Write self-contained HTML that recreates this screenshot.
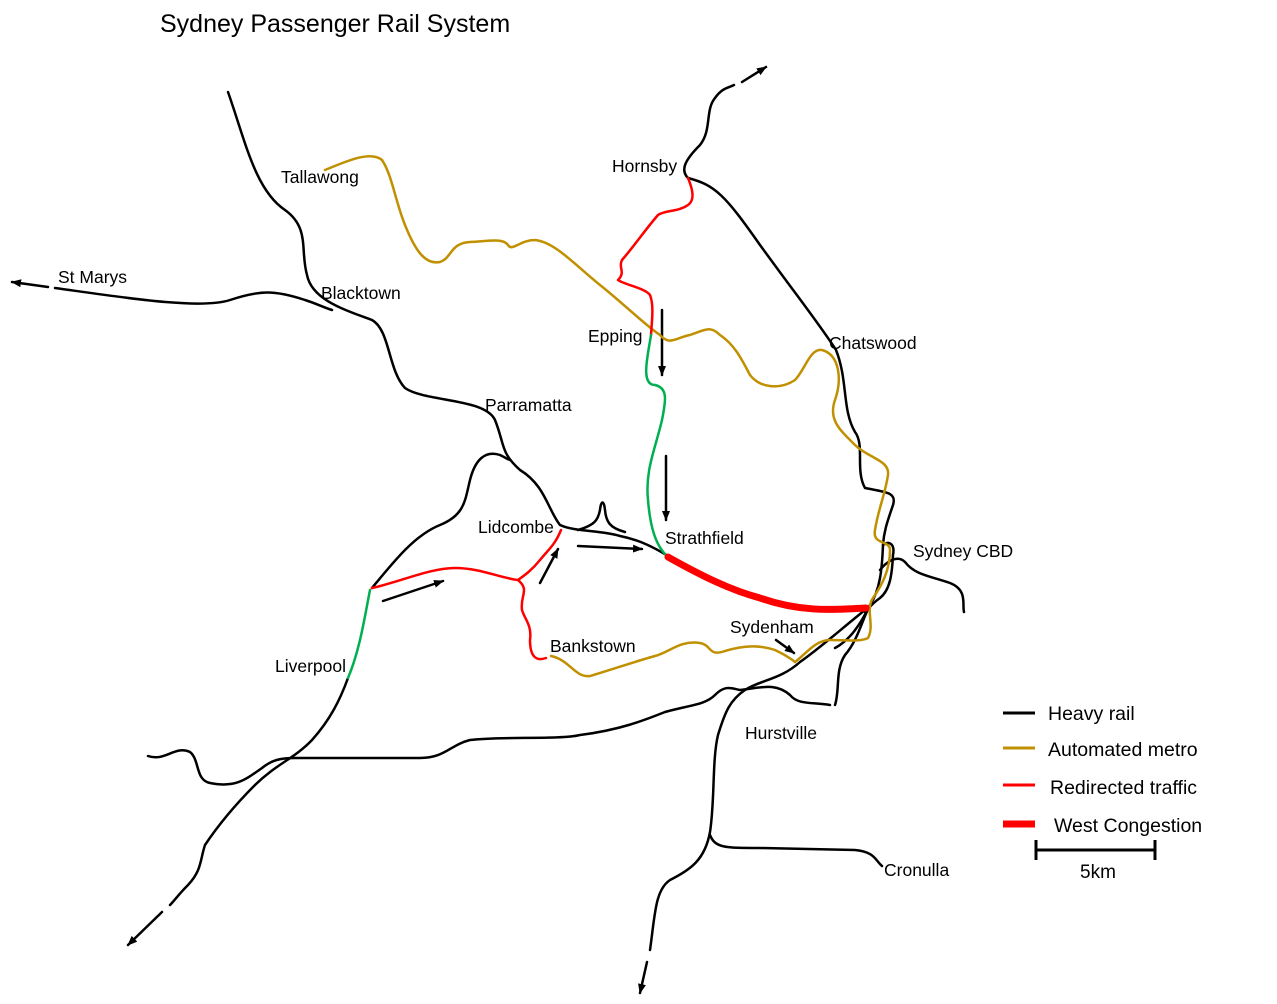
<!DOCTYPE html>
<html><head><meta charset="utf-8"><style>
body{margin:0;background:#fff;width:1277px;height:1004px;overflow:hidden}
svg{display:block}
text{font-family:"Liberation Sans",sans-serif;font-size:17.5px;fill:#000}
</style></head><body>
<svg width="1277" height="1004" viewBox="0 0 1277 1004" xmlns="http://www.w3.org/2000/svg">
<defs><marker id="a" markerWidth="10" markerHeight="8" refX="9" refY="4" orient="auto" markerUnits="userSpaceOnUse"><path d="M0,0 L10,4 L0,8 z" fill="#000"/></marker></defs>
<text x="160" y="32" style="font-size:25px">Sydney Passenger Rail System</text>
<g fill="none" stroke="#000" stroke-width="2.5" stroke-linecap="round" stroke-linejoin="round">
<path d="M228,92 C245,140 255,190 285,210 C310,228 300,250 307,275 C312,300 345,310 372,320 C390,330 388,370 405,388 C425,402 485,398 495,420 C505,445 500,452 520,470 C545,485 548,510 560,525 C575,532 600,530 620,536 C640,540 655,548 668,556"/>
<path d="M55,288 C120,297 200,310 230,300 C260,290 275,290 305,300 C315,303 325,308 332,310"/>
<path d="M48,287 L12,282" marker-end="url(#a)"/>
<path d="M688,178 C680,170 685,160 700,145 C712,130 705,110 715,98 C722,88 728,88 734,85"/>
<path d="M742,82 L766,67" marker-end="url(#a)"/>
<path d="M688,178 C715,185 725,195 760,245 C800,300 820,325 836,350 C848,380 842,410 855,432 C865,445 855,470 865,488 C885,492 897,492 893,505 C888,520 884,530 883,545 C882,570 880,590 870,605 C860,625 850,640 835,648"/>
<path d="M883,545 C890,540 895,545 893,555 C892,575 890,590 880,598 C870,605 868,610 865,612"/>
<path d="M880,570 C888,560 898,555 905,562 C915,575 930,576 950,583 C968,590 962,605 964,612"/>
<path d="M148,756 C165,762 175,745 190,752 C200,760 195,780 210,783 C235,788 245,780 262,768 C272,760 280,758 295,758 L420,758 C445,758 450,745 470,740 C500,736 560,740 580,735 C620,730 645,720 665,712 C690,705 705,705 715,695 C725,685 730,688 740,690 C760,688 775,682 790,695 C798,705 812,702 830,705"/>
<path d="M865,610 C840,630 820,648 800,662 C780,680 760,680 745,690 C730,700 725,712 718,735 C712,760 715,800 710,832 C705,860 690,870 670,880 C655,890 655,915 650,950"/>
<path d="M647,962 L640,993" marker-end="url(#a)"/>
<path d="M710,835 C715,848 725,848 760,848 L855,850 C875,852 875,860 882,866"/>
<path d="M870,605 C862,620 858,640 845,655 C835,670 840,690 835,705"/>
<path d="M348,678 C340,700 330,720 312,740 C295,758 275,765 255,785 C230,810 215,830 205,845 C200,860 202,870 188,885 C178,895 175,900 170,905"/>
<path d="M162,912 L128,945" marker-end="url(#a)"/>
<path d="M372,588 C395,560 415,535 440,525 C465,515 465,500 470,480 C475,460 485,450 500,455 C510,460 505,458 510,460"/>
<path d="M578,530 C595,525 598,520 600,510 C601,500 604,500 605,510 C606,522 610,528 625,532"/>
<path d="M662,310 L662,375" marker-end="url(#a)"/>
<path d="M666,456 L666,520" marker-end="url(#a)"/>
<path d="M578,546 L642,549" marker-end="url(#a)"/>
<path d="M383,601 L443,581" marker-end="url(#a)"/>
<path d="M540,583 L558,549" marker-end="url(#a)"/>
<path d="M776,640 L794,653" marker-end="url(#a)"/>
</g>
<g fill="none" stroke="#c09000" stroke-width="2.5" stroke-linecap="round" stroke-linejoin="round">
<path d="M325,170 C345,162 370,150 382,160 C392,175 395,200 405,225 C415,250 425,265 440,262 C452,258 450,243 470,242 C490,241 503,238 508,245 C512,252 520,240 535,240 C555,242 575,265 600,285 C625,305 645,325 660,335 C670,346 675,338 690,335 C705,330 710,325 720,335 C735,345 742,360 750,375 C760,388 780,390 795,380 C805,370 810,348 822,350 C840,355 842,380 835,400 C828,420 840,430 855,445 C868,458 890,460 888,475 C885,495 878,510 875,530 C872,545 890,540 890,550 C890,570 882,585 873,598 C865,610 875,625 868,638 C860,642 845,640 830,640 C815,640 805,655 795,662"/>
<path d="M551,656 C570,660 575,678 590,676 C610,670 640,660 655,656 C670,652 680,640 700,643 C712,645 708,657 725,651 C745,645 760,645 775,650 C788,656 795,662 795,662"/>
</g>
<g fill="none" stroke="#ff0000" stroke-width="2.5" stroke-linecap="round" stroke-linejoin="round">
<path d="M688,178 C693,190 695,200 688,205 C678,212 665,210 658,215 C645,230 635,245 622,260 C618,268 626,272 618,280 C625,285 645,288 650,295 C654,305 652,320 651,335"/>
<path d="M561,530 C555,545 548,550 540,560 C532,570 525,575 518,580 C530,590 520,595 522,610 C525,620 532,625 530,640 C530,655 535,662 546,658"/>
<path d="M518,580 C500,578 480,568 455,568 C430,568 400,582 372,588"/>
</g>
<g fill="none" stroke="#00b050" stroke-width="2.5" stroke-linecap="round">
<path d="M651,335 C648,355 640,385 655,385 C668,388 666,400 662,420 C655,450 645,470 648,500 C650,525 655,545 667,556"/>
<path d="M370,590 C365,615 360,650 348,678"/>
</g>
<path d="M668,557 C700,575 730,590 760,598 C800,612 830,610 866,608" fill="none" stroke="#ff0000" stroke-width="7" stroke-linecap="round"/>
<text x="281" y="183">Tallawong</text>
<text x="612" y="172">Hornsby</text>
<text x="58" y="283">St Marys</text>
<text x="321" y="299">Blacktown</text>
<text x="588" y="342">Epping</text>
<text x="829" y="349">Chatswood</text>
<text x="485" y="411">Parramatta</text>
<text x="478" y="533">Lidcombe</text>
<text x="665" y="544">Strathfield</text>
<text x="913" y="557">Sydney CBD</text>
<text x="730" y="633">Sydenham</text>
<text x="550" y="652">Bankstown</text>
<text x="275" y="672">Liverpool</text>
<text x="745" y="739">Hurstville</text>
<text x="884" y="876">Cronulla</text>
<g stroke-width="3"><line x1="1003" y1="713" x2="1035" y2="713" stroke="#000"/><line x1="1003" y1="748" x2="1035" y2="748" stroke="#c09000"/><line x1="1003" y1="785" x2="1035" y2="785" stroke="#ff0000"/><line x1="1003" y1="824" x2="1035" y2="824" stroke="#ff0000" stroke-width="7"/></g>
<text x="1048" y="720" style="font-size:19.5px">Heavy rail</text>
<text x="1048" y="756" style="font-size:19.5px">Automated metro</text>
<text x="1050" y="794" style="font-size:19.5px">Redirected traffic</text>
<text x="1054" y="832" style="font-size:19.5px">West Congestion</text>
<g stroke="#000" stroke-width="3"><line x1="1036" y1="850" x2="1155" y2="850"/><line x1="1036" y1="840" x2="1036" y2="860"/><line x1="1155" y1="840" x2="1155" y2="860"/></g>
<text x="1080" y="878" style="font-size:19px">5km</text>
</svg>
</body></html>
